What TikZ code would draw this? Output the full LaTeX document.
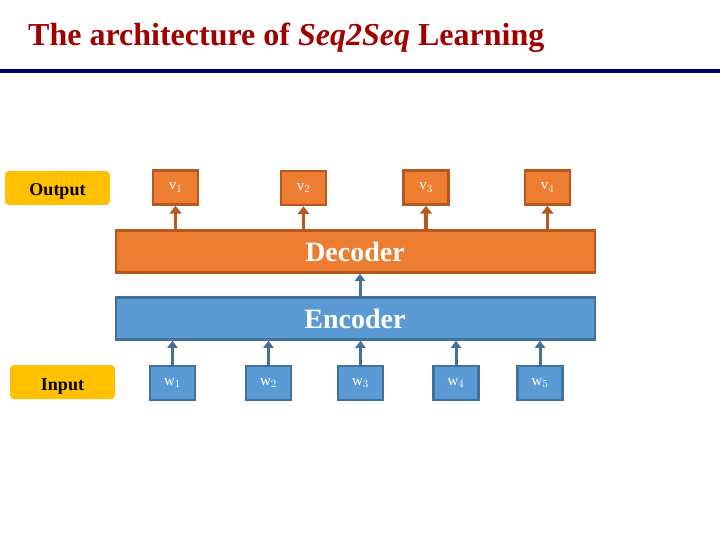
\documentclass[tikz,border=0pt]{standalone}
\usepackage{fontspec}
\setmainfont{Liberation Serif}
\usetikzlibrary{arrows.meta}
\definecolor{titlered}{HTML}{A00000}
\definecolor{navy}{HTML}{000066}
\definecolor{gold}{HTML}{FFC000}
\definecolor{orfill}{HTML}{ED7D31}
\definecolor{ordraw}{HTML}{B8581F}
\definecolor{blfill}{HTML}{5B9BD5}
\definecolor{bldraw}{HTML}{41719C}
\tikzset{
  tag/.style={fill=gold, rounded corners=4pt, minimum width=105pt, minimum height=34pt, inner sep=0pt, font=\fontsize{18}{18}\selectfont\bfseries, text=black},
  obox/.style={fill=orfill, draw=ordraw, line width=2.5pt, minimum width=45pt, minimum height=34pt, inner sep=0pt, text=white, font=\fontsize{15}{15}\selectfont},
  wbox/.style={fill=blfill, draw=bldraw, line width=2.5pt, minimum width=45pt, minimum height=34pt, inner sep=0pt, text=white, font=\fontsize{15}{15}\selectfont},
  bigo/.style={fill=orfill, draw=ordraw, line width=2.5pt, minimum width=479pt, minimum height=42pt, inner sep=0pt, text=white, font=\fontsize{28}{28}\selectfont\bfseries},
  bigb/.style={fill=blfill, draw=bldraw, line width=2.5pt, minimum width=479pt, minimum height=42pt, inner sep=0pt, text=white, font=\fontsize{28}{28}\selectfont\bfseries},
  oarr/.style={draw=ordraw, line width=3.5pt, -{Triangle[width=12pt,length=8pt]}},
  barr/.style={draw=bldraw, line width=3pt, -{Triangle[width=10pt,length=7pt]}},
}
\begin{document}
\begin{tikzpicture}[x=1pt,y=-1pt]
\useasboundingbox (0,0) rectangle (720,540);
% title
\node[anchor=base west, inner sep=0pt, text=titlered, font=\fontsize{32}{32}\selectfont\bfseries] (title) at (28,46) {The architecture of \textit{Seq2Seq} Learning};
\coordinate (rl) at (0,71);
\coordinate (rr) at (720,71);
\draw[navy, line width=3.5pt] (rl) -- (rr);
% tags
\node[tag] (out) at (57.5,188) {};
\node[anchor=base, font=\fontsize{18}{18}\selectfont\bfseries] (outt) at (57.5,196) {Output};
\node[tag] (in) at (62.5,382) {};
\node[anchor=base, font=\fontsize{18}{18}\selectfont\bfseries] (intt) at (62.5,390) {Input};
% decoder / encoder
\node[bigo] (dec) at (355.5,251.5) {};
\node[anchor=base, text=white, font=\fontsize{28}{28}\selectfont\bfseries] (dect) at (355,261) {Decoder};
\node[bigb] (enc) at (355.5,318.5) {};
\node[anchor=base, text=white, font=\fontsize{28}{28}\selectfont\bfseries] (enct) at (355,328) {Encoder};
% outputs
\node[obox] (v1) at (175.5,187.5) {\raisebox{-3pt}{v$_{1}$}};
\node[obox] (v2) at (303.5,188) {\raisebox{-3pt}{v$_{2}$}};
\node[obox] (v3) at (426,187.5) {\raisebox{-3pt}{v$_{3}$}};
\node[obox] (v4) at (547.5,187.5) {\raisebox{-3pt}{v$_{4}$}};
% inputs
\node[wbox] (w1) at (172.5,383) {\raisebox{-3pt}{w$_{1}$}};
\node[wbox] (w2) at (268.5,383) {\raisebox{-3pt}{w$_{2}$}};
\node[wbox] (w3) at (360.5,383) {\raisebox{-3pt}{w$_{3}$}};
\node[wbox] (w4) at (456,383) {\raisebox{-3pt}{w$_{4}$}};
\node[wbox] (w5) at (540,383) {\raisebox{-3pt}{w$_{5}$}};
% arrows
\foreach \v in {v1,v2,v3,v4}
  \draw[oarr] (dec.north -| \v.south) -- (\v.south);
\coordinate (eup) at ([xshift=4.5pt]enc.north);
\draw[barr] (eup) -- (eup |- dec.south);
\foreach \w in {w1,w2,w3,w4,w5}
  \draw[barr] (\w.north) -- (enc.south -| \w.north);
\end{tikzpicture}
\end{document}
